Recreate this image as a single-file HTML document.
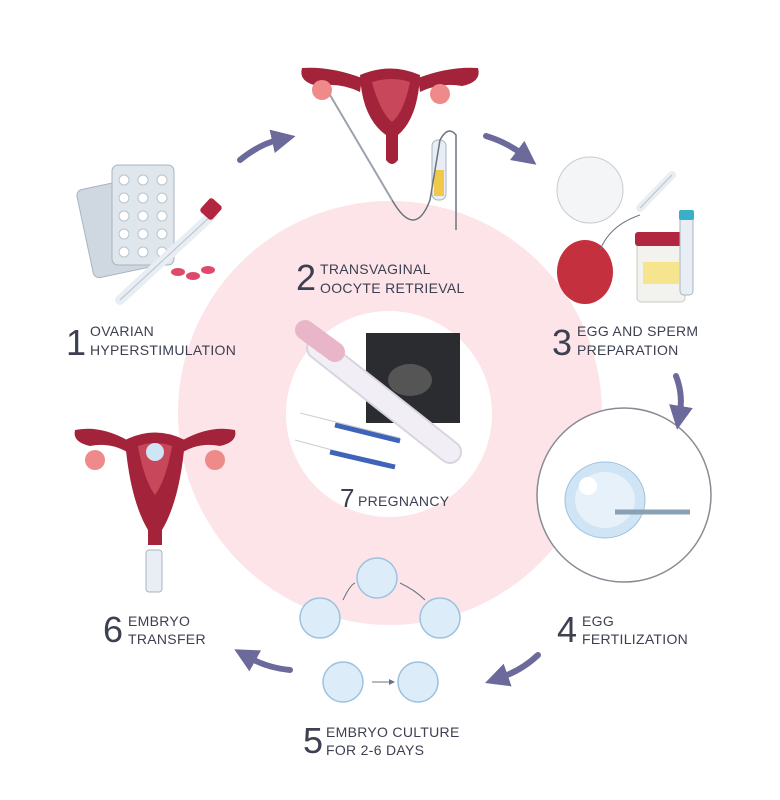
<!DOCTYPE html>
<html><head><meta charset="utf-8"><style>
html,body{margin:0;padding:0;background:#fff;}
svg{display:block}
text{font-family:"Liberation Sans",sans-serif;fill:#3d4051}
.d{font-size:36px}
.l{font-size:14px;letter-spacing:0.3px}
</style></head><body>
<svg width="780" height="800" viewBox="0 0 780 800">
<defs>
<marker id="ah" markerWidth="4" markerHeight="4" refX="1" refY="2" orient="auto" markerUnits="strokeWidth">
<path d="M0,0 L4,2 L0,4 Z" fill="#6b6a9b"/></marker>
<marker id="sh" markerWidth="6" markerHeight="6" refX="1" refY="3" orient="auto" markerUnits="strokeWidth">
<path d="M0,0 L6,3 L0,6 Z" fill="#6a7480"/></marker>
</defs>
<circle cx="390" cy="413" r="212" fill="#fce4e8"/>
<circle cx="389" cy="414" r="103" fill="#fff"/>
<circle cx="624" cy="495" r="87" fill="#fff" stroke="#8a8a95" stroke-width="1.5"/>
<g fill="none" stroke="#6b6a9b" stroke-width="6" stroke-linecap="round">
<path d="M240,160 Q260,144 278,140" marker-end="url(#ah)"/>
<path d="M486,136 Q506,142 522,154" marker-end="url(#ah)"/>
<path d="M676,376 Q683,394 680,412" marker-end="url(#ah)"/>
<path d="M538,655 Q522,670 502,677" marker-end="url(#ah)"/>
<path d="M290,670 Q268,668 250,658" marker-end="url(#ah)"/>
</g>
<g transform="rotate(-12 130 215)">
<rect x="82" y="180" width="70" height="90" rx="6" fill="#cfd8e0" stroke="#a8b4bf"/>
</g>
<rect x="112" y="165" width="62" height="100" rx="6" fill="#dfe6ec" stroke="#a8b4bf"/>
<g fill="#fff" stroke="#b9c4ce">
<circle cx="124" cy="180" r="5"/><circle cx="143" cy="180" r="5"/><circle cx="162" cy="180" r="5"/>
<circle cx="124" cy="198" r="5"/><circle cx="143" cy="198" r="5"/><circle cx="162" cy="198" r="5"/>
<circle cx="124" cy="216" r="5"/><circle cx="143" cy="216" r="5"/><circle cx="162" cy="216" r="5"/>
<circle cx="124" cy="234" r="5"/><circle cx="143" cy="234" r="5"/><circle cx="162" cy="234" r="5"/>
<circle cx="124" cy="252" r="5"/><circle cx="143" cy="252" r="5"/><circle cx="162" cy="252" r="5"/>
</g>
<path d="M120,300 L212,215" stroke="#e8eef3" stroke-width="10" stroke-linecap="round"/>
<path d="M120,300 L212,215" stroke="#b8c2cc" stroke-width="1"/>
<rect x="203" y="200" width="16" height="18" rx="3" fill="#b3263f" transform="rotate(42 211 209)"/>
<ellipse cx="178" cy="272" rx="7" ry="4" fill="#e04a6a"/><ellipse cx="193" cy="276" rx="7" ry="4" fill="#e04a6a"/><ellipse cx="208" cy="270" rx="7" ry="4" fill="#e04a6a"/>
<g fill="#a3243a">
<path d="M360,75 Q390,62 420,75 Q418,118 398,135 L398,160 Q392,168 386,160 L386,135 Q362,118 360,75Z"/>
<path d="M362,78 Q330,66 302,68 Q298,82 318,86 Q340,82 360,92Z"/>
<path d="M418,78 Q450,66 478,68 Q482,82 462,86 Q440,82 420,92Z"/>
</g>
<path d="M372,82 Q392,76 410,82 Q404,112 392,122 Q380,112 372,82Z" fill="#c9475a"/>
<circle cx="322" cy="90" r="10" fill="#ef8a8a"/><circle cx="440" cy="94" r="10" fill="#ef8a8a"/>
<path d="M330,95 L392,200" stroke="#9aa3ad" stroke-width="2"/>
<rect x="432" y="140" width="14" height="60" rx="6" fill="#e8eef3" stroke="#a8b4bf"/>
<rect x="434" y="170" width="10" height="26" fill="#f0c94a"/>
<path d="M392,200 Q415,240 430,200 L440,140 Q448,125 456,135 L456,230" fill="none" stroke="#6a7480" stroke-width="1.5"/>
<circle cx="590" cy="190" r="33" fill="#f3f5f7" stroke="#c5ccd3"/>
<path d="M640,208 L672,175" stroke="#e8eef3" stroke-width="8" stroke-linecap="round"/>
<path d="M640,208 L672,175" stroke="#b8c2cc"/>
<ellipse cx="585" cy="272" rx="28" ry="32" fill="#c4303e"/>
<rect x="637" y="238" width="48" height="64" rx="4" fill="#f2f2ee" stroke="#c8c8c0"/>
<rect x="635" y="232" width="52" height="14" rx="3" fill="#b3263f"/>
<rect x="643" y="262" width="36" height="22" fill="#f6e48f"/>
<rect x="680" y="215" width="13" height="80" rx="4" fill="#e8eef3" stroke="#a8b4bf"/>
<rect x="679" y="210" width="15" height="10" rx="2" fill="#3ab0c8"/>
<path d="M600,250 Q610,225 640,215" fill="none" stroke="#6a7480"/>
<ellipse cx="605" cy="500" rx="40" ry="38" fill="#cfe4f5" stroke="#9cc2e0"/>
<ellipse cx="605" cy="500" rx="30" ry="28" fill="#e6f1fa"/>
<circle cx="588" cy="486" r="9" fill="#fff"/>
<path d="M615,512 L690,512" stroke="#8aa0b4" stroke-width="5"/>
<g fill="#dcecf8" stroke="#9cc2e0" stroke-width="1.5">
<circle cx="377" cy="578" r="20"/><circle cx="320" cy="618" r="20"/><circle cx="440" cy="618" r="20"/>
<circle cx="343" cy="682" r="20"/><circle cx="418" cy="682" r="20"/>
</g>
<path d="M343,600 Q350,585 355,583 M400,583 Q415,590 425,600" fill="none" stroke="#6a7480"/>
<path d="M372,682 L390,682" stroke="#6a7480" marker-end="url(#sh)"/>
<g fill="#a3243a">
<path d="M125,440 Q155,425 185,440 Q180,500 162,530 L162,545 L148,545 L148,530 Q130,500 125,440Z"/>
<path d="M127,440 Q100,425 75,430 Q72,442 90,446 Q110,442 127,452Z"/>
<path d="M183,440 Q210,425 235,430 Q238,442 220,446 Q200,442 183,452Z"/>
</g>
<path d="M138,446 Q155,440 172,446 Q166,480 155,495 Q144,480 138,446Z" fill="#c9475a"/>
<circle cx="155" cy="452" r="9" fill="#cfe4f5"/>
<circle cx="95" cy="460" r="10" fill="#ef8a8a"/><circle cx="215" cy="460" r="10" fill="#ef8a8a"/>
<rect x="146" y="550" width="16" height="42" rx="3" fill="#e8eef3" stroke="#a8b4bf"/>
<rect x="366" y="333" width="94" height="90" fill="#2a2c30"/>
<ellipse cx="410" cy="380" rx="22" ry="16" fill="#555"/>
<path d="M300,413 L400,438" stroke="#fff" stroke-width="7"/><path d="M300,413 L400,438" stroke="#ccc" stroke-width="1"/>
<path d="M335,425 L400,441" stroke="#3f63b8" stroke-width="5"/>
<path d="M295,440 L395,467" stroke="#fff" stroke-width="7"/><path d="M295,440 L395,467" stroke="#ccc" stroke-width="1"/>
<path d="M330,452 L395,467" stroke="#3f63b8" stroke-width="5"/>
<path d="M318,348 L450,452" stroke="#d8d4e0" stroke-width="24" stroke-linecap="round"/>
<path d="M318,348 L450,452" stroke="#f1eff5" stroke-width="20" stroke-linecap="round"/>
<path d="M305,330 L335,352" stroke="#e8b6c8" stroke-width="20" stroke-linecap="round"/>
<text class="d" x="66" y="355">1</text>
<text class="l" x="90" y="336">OVARIAN</text><text class="l" x="90" y="355">HYPERSTIMULATION</text>
<text class="d" x="296" y="290">2</text>
<text class="l" x="320" y="274">TRANSVAGINAL</text><text class="l" x="320" y="293">OOCYTE RETRIEVAL</text>
<text class="d" x="552" y="355">3</text>
<text class="l" x="577" y="336">EGG AND SPERM</text><text class="l" x="577" y="355">PREPARATION</text>
<text class="d" x="557" y="642">4</text>
<text class="l" x="582" y="626">EGG</text><text class="l" x="582" y="644">FERTILIZATION</text>
<text class="d" x="303" y="753">5</text>
<text class="l" x="326" y="737">EMBRYO CULTURE</text><text class="l" x="326" y="755">FOR 2-6 DAYS</text>
<text class="d" x="103" y="642">6</text>
<text class="l" x="128" y="626">EMBRYO</text><text class="l" x="128" y="644">TRANSFER</text>
<text x="340" y="507" style="font-size:26px">7</text><text class="l" x="358" y="506">PREGNANCY</text>
</svg>
</body></html>
